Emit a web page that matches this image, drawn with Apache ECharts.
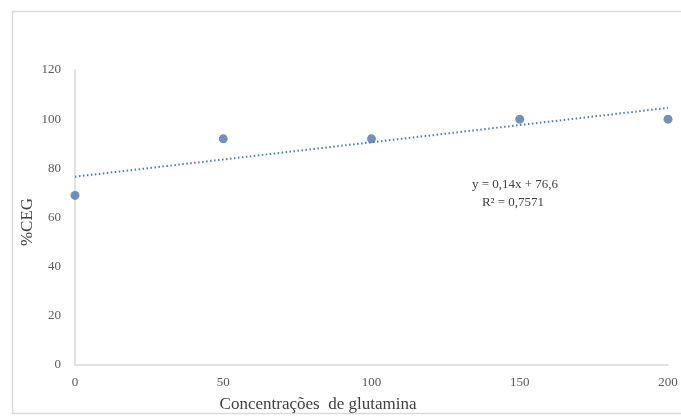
<!DOCTYPE html>
<html><head><meta charset="utf-8">
<script src="https://cdn.jsdelivr.net/npm/echarts@6/dist/echarts.min.js"></script>
<style>html,body{margin:0;padding:0;background:#fff}#c{width:681px;height:417px}</style>
</head><body><div id="c"></div>
<script>
var concentracoes = [0, 50, 100, 150, 200];
var cegValues = [69, 92, 92, 100, 100];
var trendX = [0, 200];
var trendY = [76.6, 104.6];
var yTicks = [0, 20, 40, 60, 80, 100, 120];
var xTicks = [0, 50, 100, 150, 200];
var eqLine1 = 'y = 0,14x + 76,6';
var eqLine2 = 'R² = 0,7571';
var xTitle = 'Concentrações  de glutamina';
var yTitle = '%CEG';

var chart = echarts.init(document.getElementById('c'), null, {renderer: 'canvas'});
var font = '"Liberation Serif", "Times New Roman", serif';
chart.setOption({
  animation: false,
  backgroundColor: '#fff',
  grid: {left: 75, right: 13, top: 70, bottom: 52},
  xAxis: {
    type: 'value', min: xTicks[0], max: xTicks[xTicks.length-1], interval: 50,
    axisLine: {show: true, lineStyle: {color: '#d9d9d9', width: 1.5}},
    axisTick: {show: false}, splitLine: {show: false},
    axisLabel: {color: '#595959', fontFamily: font, fontSize: 13, margin: 11, showMaxLabel: true}
  },
  yAxis: {
    type: 'value', min: yTicks[0], max: yTicks[yTicks.length-1], interval: 20,
    axisLine: {show: true, lineStyle: {color: '#d9d9d9', width: 1.5}},
    axisTick: {show: false}, splitLine: {show: false},
    axisLabel: {color: '#595959', fontFamily: font, fontSize: 13, margin: 14}
  },
  series: [
    {
      type: 'line', data: trendX.map(function(x, i){ return [x, trendY[i]]; }),
      symbol: 'none', silent: true,
      lineStyle: {color: '#4a7ab5', width: 2, type: [1.5, 2.5]}
    },
    {
      type: 'scatter', data: concentracoes.map(function(x, i){ return [x, cegValues[i]]; }),
      symbol: 'circle', symbolSize: 9,
      itemStyle: {color: '#4a76b0'}
    }
  ],
  graphic: [
    {type: 'rect', shape: {x: 12.5, y: 11.5, width: 700, height: 402}, style: {fill: 'none', stroke: '#d9d9d9', lineWidth: 1.5}, z: -1},
    {type: 'text', x: 515, y: 185, style: {text: eqLine1, fill: '#404040', font: '13px ' + font, textAlign: 'center', textVerticalAlign: 'middle'}},
    {type: 'text', x: 513, y: 203, style: {text: eqLine2, fill: '#404040', font: '13px ' + font, textAlign: 'center', textVerticalAlign: 'middle'}},
    {type: 'text', x: 318, y: 405, style: {text: xTitle, fill: '#404040', font: '17px ' + font, textAlign: 'center', textVerticalAlign: 'middle'}},
    {type: 'text', x: 28, y: 222, rotation: Math.PI/2, style: {text: yTitle, fill: '#404040', font: '17px ' + font, textAlign: 'center', textVerticalAlign: 'middle'}}
  ]
});
</script></body></html>
